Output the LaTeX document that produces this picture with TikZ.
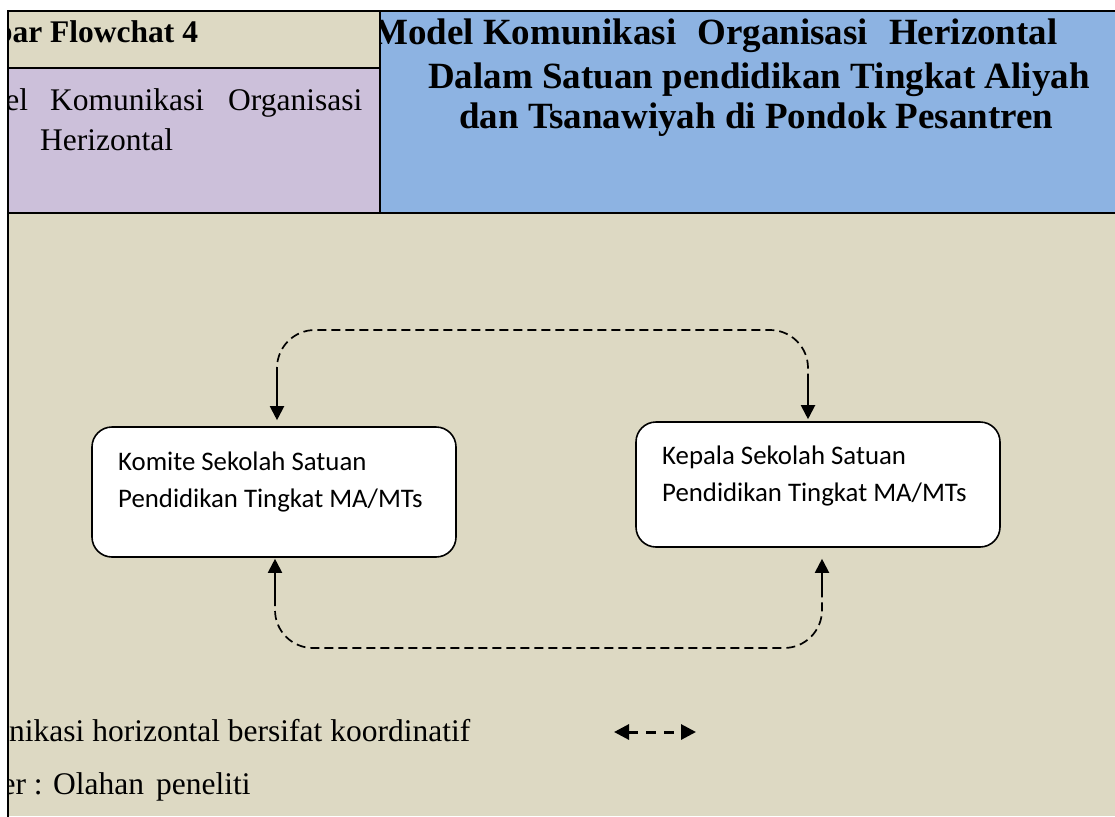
\documentclass[tikz,border=0pt]{standalone}
\usepackage{fontspec}
\setmainfont{Liberation Serif}
\newfontfamily\boxfont{Carlito}
\usetikzlibrary{arrows.meta}

\definecolor{tan}{HTML}{DDD9C3}
\definecolor{lilac}{HTML}{CCC0DA}
\definecolor{skyblue}{HTML}{8DB3E2}

\begin{document}
\begin{tikzpicture}[x=1pt,y=-1pt,
  frame/.style={line width=2.5pt, line cap=rect},
  card/.style={draw, line width=1.6pt, fill=white, rounded corners=20pt,
    minimum width=364pt, inner sep=0pt},
  cardtext/.style={font=\boxfont\fontsize{26.8}{37}\selectfont, align=left,
    inner sep=0pt, anchor=base west},
  bodytext/.style={font=\fontsize{31.5}{40}\selectfont, inner sep=0pt, anchor=base west},
  headtext/.style={font=\bfseries\fontsize{31.5}{40}\selectfont, inner sep=0pt, anchor=base west},
  titletext/.style={font=\bfseries\fontsize{37}{42}\selectfont, inner sep=0pt, anchor=base west},
  link/.style={line width=1.7pt, dash pattern=on 9pt off 5pt, rounded corners=38pt},
  tip/.style={line width=2pt, -{Triangle[length=14pt,width=14pt]}},
  legend/.style={line width=3pt, dash pattern=on 10pt off 8pt,
    {Triangle[length=15pt,width=15pt]}-{Triangle[length=15pt,width=15pt]}}
]
\useasboundingbox (0,0) rectangle (1115,816);

% cell fills
\fill[white] (0,0) rectangle (1115,816);
\fill[tan] (8,11) rectangle (1115,816);
\fill[lilac] (8,68) rectangle (380,213);
\fill[skyblue] (380,11) rectangle (1115,213);

% heading texts of the left cells and the notes below
\begin{scope}
  \clip (8,0) rectangle (380,816);
  \node[headtext] (gh) at (50,43) {\llap{Gambar }Flowchat 4};
  \node[bodytext] (p1) at (50,110) {\llap{Model\hspace{22pt}}Komunikasi\hspace{24pt}Organisasi};
  \node[bodytext] (p2) at (40,150) {Herizontal};
\end{scope}
\begin{scope}
  \clip (8,300) rectangle (1115,816);
  \node[bodytext] (lg) at (9,741) {\llap{Komu}nikasi horizontal bersifat koordinatif};
  \node[bodytext] (src) at (53,794) {\llap{Sumber : }Olahan\hspace{12pt}peneliti};
\end{scope}

% title in the blue cell
\begin{scope}
  \clip (380,11) rectangle (1115,213);
  \node[titletext] (t1) at (373,45) {Model Komunikasi\hspace{21pt}Organisasi\hspace{21pt}Herizontal};
  \node[titletext] (t2) at (428,88) {Dalam Satuan pendidikan Tingkat Aliyah};
  \node[titletext] (t3) at (459,128) {dan Tsanawiyah di Pondok Pesantren};
\end{scope}

% table rules
\draw[frame] (8,816) -- (8,11) -- (1115,11);
\draw[frame] (8,68) -- (380,68);
\draw[frame] (380,11) -- (380,213);
\draw[frame] (8,213) -- (1115,213);

% the two units (text anchored at the baseline of its last line)
\node[card, minimum height=130pt] (kom) at (274,492) {};
\node[cardtext] (komtext) at (118,507) {Komite Sekolah Satuan\\Pendidikan Tingkat MA/MTs};
\node[card, minimum height=125pt] (kep) at (818,484.5) {};
\node[cardtext] (keptext) at (662,501) {Kepala Sekolah Satuan\\Pendidikan Tingkat MA/MTs};

% coordinative links
\coordinate (ta) at (277,376);
\coordinate (tb) at (808,382);
\coordinate (tt) at (0,330);
\draw[link] (ta) -- (ta |- tt) -- (tb |- tt) -- (tb);
\draw[tip, shorten >=6pt] (ta) -- (ta |- kom.north);
\draw[tip, shorten >=2pt] (tb) -- (tb |- kep.north);

\coordinate (ba) at (275,597);
\coordinate (bb) at (822,597);
\coordinate (bt) at (0,648);
\draw[link] (ba) -- (ba |- bt) -- (bb |- bt) -- (bb);
\draw[tip, shorten >=1pt] (ba) -- (ba |- kom.south);
\draw[tip, shorten >=11pt] (bb) -- (bb |- kep.south);

% legend symbol
\coordinate (la) at (614,732);
\coordinate (lb) at (696,732);
\draw[legend] (la) -- (lb);
\end{tikzpicture}
\end{document}
